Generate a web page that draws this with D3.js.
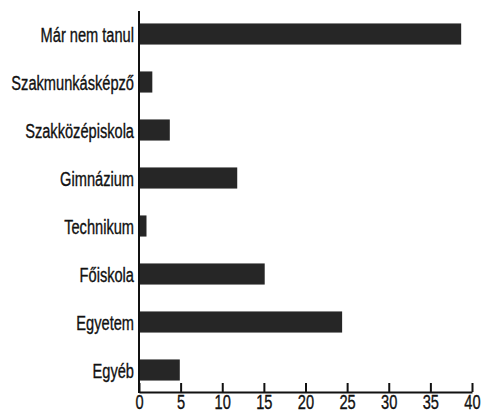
<html>
<head>
<meta charset="utf-8">
<script src="https://cdnjs.cloudflare.com/ajax/libs/d3/7.8.5/d3.min.js"></script>
<style>
  body { margin: 0; background: #fff; }
  text { font-family: "Liberation Sans", Arial, sans-serif; fill: #111; stroke: #111; stroke-width: 0.35px; }
</style>
</head>
<body>
<svg width="483" height="410"></svg>
<script>
const categories = ['Már nem tanul', 'Szakmunkásképző', 'Szakközépiskola', 'Gimnázium',
                    'Technikum', 'Főiskola', 'Egyetem', 'Egyéb'];
const values = [38.7, 1.6, 3.7, 11.8, 0.9, 15.1, 24.4, 4.9];
const xTicks = [0, 5, 10, 15, 20, 25, 30, 35, 40];

const svg = d3.select('svg');
const narrow = 0.75; // squeeze text to look like a condensed face

let x = d3.scaleLinear().domain([0, 40]).range([139, 472]),
    y = d3.scaleBand().domain(categories).range([10, 394])
          .paddingInner(0.56).paddingOuter(0.28);

// bars
svg.append('g')
  .selectAll('rect')
  .data(categories)
  .join('rect')
  .attr('x', x(0))
  .attr('y', d => y(d))
  .attr('width', (d, i) => x(values[i]) - x(0))
  .attr('height', y.bandwidth())
  .style('fill', '#262626');

// category labels
svg.append('g')
  .selectAll('text')
  .data(categories)
  .join('text')
  .attr('transform', d => `translate(134,${y(d) + y.bandwidth() / 2 + 7.5}) scale(${narrow},1)`)
  .style('text-anchor', 'end')
  .style('font-size', '19.5px')
  .text(d => d);

// vertical axis line
svg.append('line')
  .attr('x1', x(0)).attr('x2', x(0))
  .attr('y1', 11).attr('y2', 393)
  .style('stroke', '#111').style('stroke-width', 2);

// bottom axis, ticks pointing up
const xAxis = d3.axisBottom(x).tickValues(xTicks).tickSize(-9).tickSizeOuter(0);
const gx = svg.append('g').attr('transform', 'translate(0,392)').call(xAxis);
gx.select('.domain').style('stroke', '#111').style('stroke-width', 2);
gx.selectAll('.tick line').style('stroke', '#111').style('stroke-width', 2);
gx.selectAll('.tick text')
  .attr('y', 0).attr('dy', 0)
  .attr('transform', `translate(0,16.5) scale(${narrow},1)`)
  .style('font-family', '"Liberation Sans", Arial, sans-serif')
  .style('font-size', '19.5px')
  .style('fill', '#111')
  .style('stroke', '#111').style('stroke-width', '0.35px');
</script>
</body>
</html>
